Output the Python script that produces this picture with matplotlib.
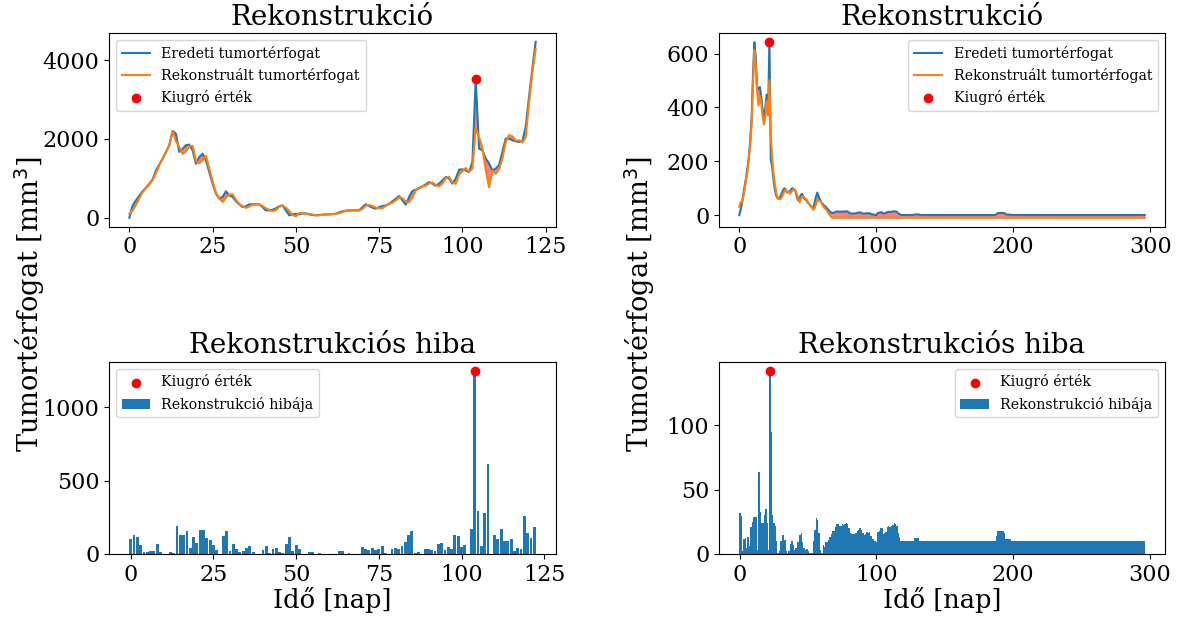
import numpy as np
import matplotlib
matplotlib.use("Agg")
import matplotlib.pyplot as plt
from matplotlib.ticker import MultipleLocator

plt.rcParams.update({"font.family": "serif", "font.serif": ["DejaVu Serif"],
                     "xtick.labelsize": 16, "ytick.labelsize": 16,
                     "axes.titlesize": 20, "axes.labelsize": 18.5, "legend.fontsize": 10.2})

# ---- left case: original vs reconstructed tumour volume (mm^3), day 0..122 ----
orig_l = [0, 310, 440, 560, 670, 760, 860, 975, 1200, 1350, 1500, 1670, 1840, 2200, 2130,
          1670, 1750, 1840, 1855, 1710, 1370, 1540, 1625, 1457, 1160, 865, 610, 483, 525,
          670, 567, 525, 423, 340, 270, 290, 340, 340, 340, 340, 270, 186, 186, 200, 237,
          290, 313, 186, 60, 85, 100, 85, 110, 110, 85, 68, 60, 68, 76, 85, 85, 93, 100,
          135, 160, 178, 186, 186, 186, 186, 270, 340, 296, 254, 228, 270, 296, 313, 355,
          415, 483, 550, 440, 330, 525, 678, 711, 754, 796, 847, 906, 864, 813, 864, 948,
          1033, 991, 864, 991, 1220, 1228, 1200, 1160, 1415, 3515, 1753, 1710, 1500, 1380,
          1200, 1245, 1330, 1670, 2007, 2007, 1965, 1940, 1923, 1940, 2300, 3066, 3786, 4465]
recon_l = [102, 181, 325, 499, 656, 746, 842, 955, 1132, 1336, 1498, 1668, 1826, 2191, 1940,
           1799, 1621, 1684, 1814, 1825, 1445, 1377, 1462, 1566, 1255, 926, 637, 485, 403,
           514, 587, 593, 457, 354, 290, 249, 286, 326, 338, 338, 300, 240, 195, 166, 196,
           274, 306, 254, 175, 65, 39, 119, 108, 108, 99, 82, 59, 61, 75, 84, 84, 92, 99,
           115, 140, 177, 179, 185, 185, 185, 222, 306, 323, 295, 255, 236, 242, 306, 354,
           381, 442, 516, 494, 411, 396, 522, 702, 740, 795, 813, 872, 891, 833, 796, 873,
           1006, 1039, 898, 862, 1098, 1180, 1261, 1162, 1245, 2266, 2045, 1764, 1222, 769,
           1198, 1116, 1228, 1500, 1919, 2095, 2067, 1960, 1964, 1906, 2042, 2923, 3677, 4282]

# ---- right case: day 0..296 ----
orig_r = ([0, 20, 45, 80, 110, 140, 175, 215, 280, 360, 516, 642, 590, 466, 472, 476, 441,
           392, 367, 398, 448, 373, 644, 206, 181, 131, 94, 73, 63, 63, 69, 82, 94, 100, 94,
           84, 88, 88, 97, 100, 94, 88, 69, 55, 63, 76, 79, 63, 60, 55, 47, 42, 35, 29, 30,
           45, 69, 84, 69, 57, 47, 42, 35, 32, 26, 20, 14, 10, 8.7,
           8.7, 11.7, 13.7, 13.7, 12.7, 12.7, 13.7, 13.2, 13.7, 14.7, 13.7, 10.7, 6.7, 6.2,
           6.2, 6.2, 6.7, 8.7, 9.7, 10.7, 9.3, 6.7, 5.7, 6.2, 7.7, 6.7, 7.7, 4.7, 2.7, 2.7,
           0.7, 0.3, 7.7, 8.7, 10.7, 10.7, 6.2, 6.7, 7.7, 11.7, 12.7, 11.7, 12.7, 13.2, 14.7,
           13.7, 12.7, 6.7, 4.2]
          + [0.8] * 10 + [2.9] * 4 + [0.8] * 56 + [4.7] + [8.3] * 5 + [6.7] + [2.2] * 4
          + [0.8] * 98)
recon_r = ([31.6, 49.5, 47, 68.4, 97.8, 135, 162, 209, 259, 335, 487, 613, 561, 463, 408,
            443, 417, 368, 337, 363, 424, 370, 501.5, 301, 211, 155, 116, 83, 62, 61, 59, 67,
            79, 89, 96.6, 85, 86, 80, 87, 93, 97, 93, 78, 64.6, 48, 60, 70, 67.4, 63, 59, 49,
            43, 35.5, 30, 20, 26.4, 41, 57.6, 53, 54, 46, 35, 29.3, 23, 17, 9, 0.5, -5.5]
           + [-9.3] * 229)

W, H = 1182, 617
fig = plt.figure(figsize=(W / 100, H / 100), dpi=100)


def box(x0, x1, ytop, ybot):
    return [x0 / W, 1 - ybot / H, (x1 - x0) / W, (ybot - ytop) / H]


def panel(orig, recon, x0, x1, xstep, ystep, estep, loc, ylab_x, bar_w):
    orig = np.asarray(orig, float); recon = np.asarray(recon, float)
    t = np.arange(len(orig))
    err = np.abs(orig - recon)
    k = int(np.argmax(err))

    ax = fig.add_axes(box(x0, x1, 33, 226.5))
    ax.fill_between(t, orig, recon, color="red", alpha=0.5, lw=0, zorder=1)
    ax.plot(t, orig, color="C0", label="Eredeti tumortérfogat", zorder=2)
    ax.plot(t, recon, color="C1", label="Rekonstruált tumortérfogat", zorder=2)
    ax.scatter(t[k], orig[k], color="red", label="Kiugró érték", zorder=3)
    ax.set_title("Rekonstrukció")
    ax.xaxis.set_major_locator(MultipleLocator(xstep))
    ax.yaxis.set_major_locator(MultipleLocator(ystep))
    ax.legend(loc=loc)

    bx = fig.add_axes(box(x0, x1, 361.7, 554))
    bx.scatter(t[k], err[k], color="red", label="Kiugró érték", zorder=3)
    bx.bar(t, err, width=bar_w, color="C0", label="Rekonstrukció hibája")
    bx.set_title("Rekonstrukciós hiba")
    bx.set_xlabel("Idő [nap]", labelpad=1)
    bx.xaxis.set_major_locator(MultipleLocator(xstep))
    bx.yaxis.set_major_locator(MultipleLocator(estep))
    bx.legend(loc=loc)

    fig.text(ylab_x / W, 0.506, "Tumortérfogat [mm$^3$]", rotation=90,
             ha="center", va="center", fontsize=19.5)


panel(orig_l, recon_l, 109, 556, 25, 2000, 500, "upper left", 30, 0.85)
panel(orig_r, recon_r, 719, 1165, 100, 200, 50, "upper right", 640, 1.0)

fig.savefig("out.png", dpi=100)
